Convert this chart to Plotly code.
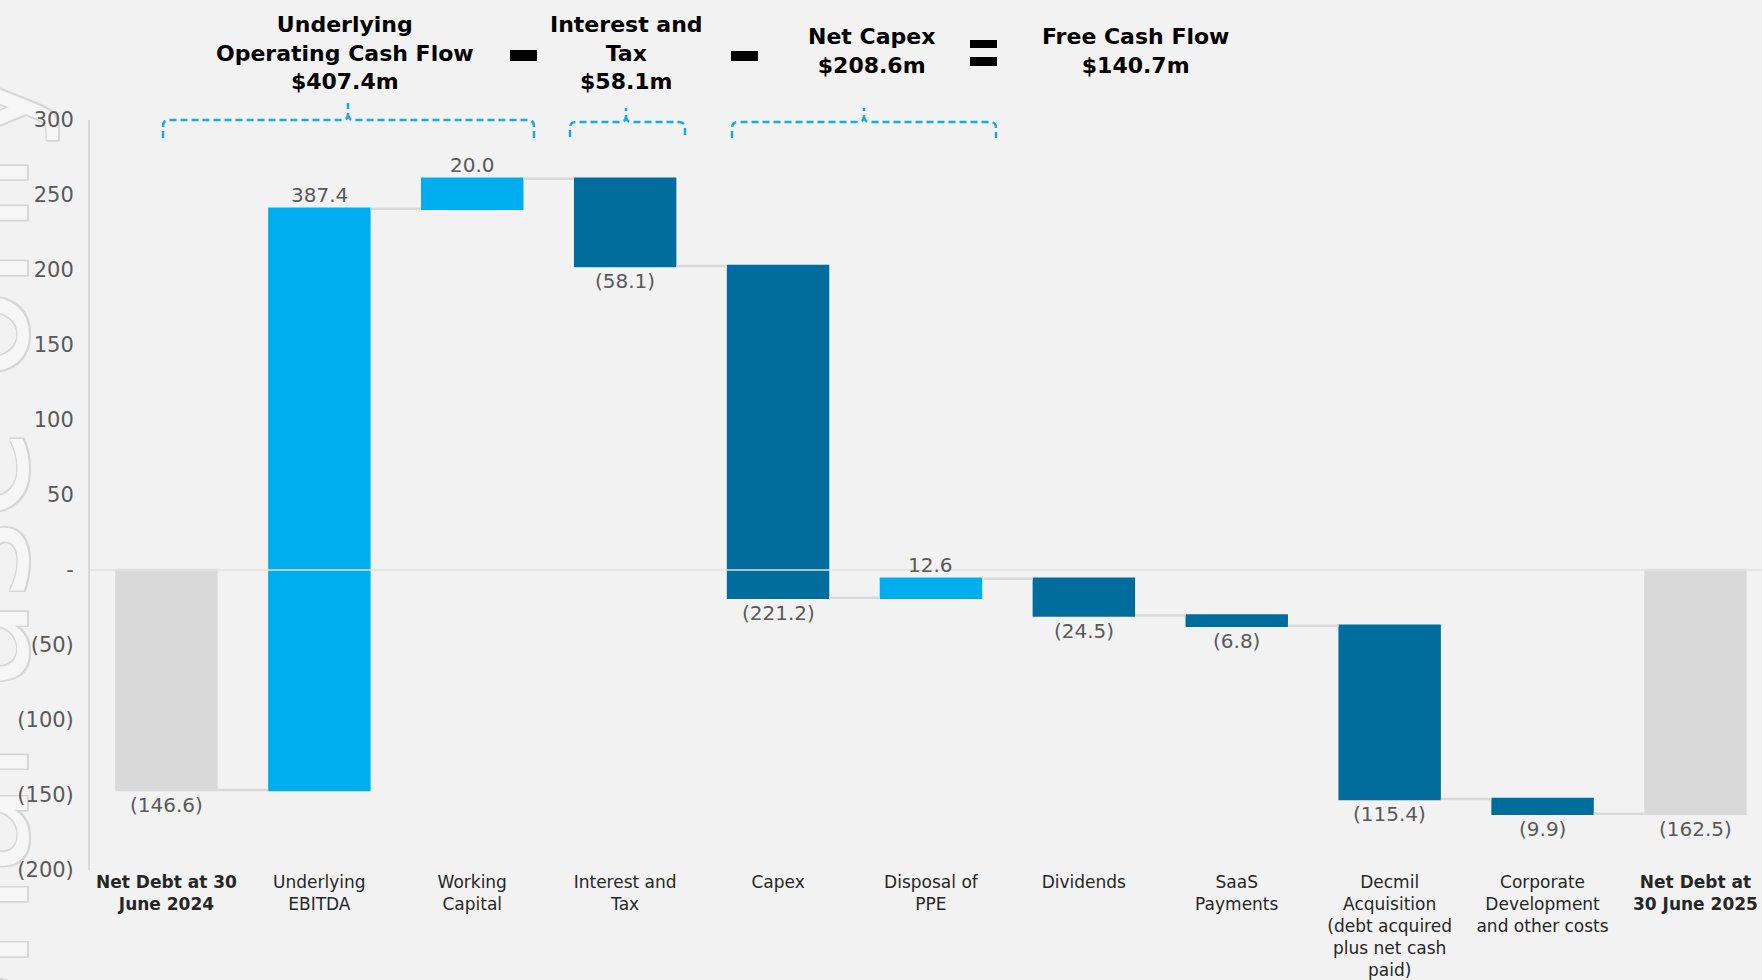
import plotly.graph_objects as go

# ---------------- data ----------------
categories = [
    "<b>Net Debt at 30<br>June 2024</b>",
    "Underlying<br>EBITDA",
    "Working<br>Capital",
    "Interest and<br>Tax",
    "Capex",
    "Disposal of<br>PPE",
    "Dividends",
    "SaaS<br>Payments",
    "Decmil<br>Acquisition<br>(debt acquired<br>plus net cash<br>paid)",
    "Corporate<br>Development<br>and other costs",
    "<b>Net Debt at<br>30 June 2025</b>",
]
measures = ["absolute", "relative", "relative", "relative", "relative", "relative",
            "relative", "relative", "relative", "relative", "total"]
values = [-146.6, 387.4, 20.0, -58.1, -221.2, 12.6, -24.5, -6.8, -115.4, -9.9, 0]

y_tickvals = [300, 250, 200, 150, 100, 50, 0, -50, -100, -150, -200]

header_titles = ["Underlying<br>Operating Cash Flow", "Interest and<br>Tax", "Net Capex", "Free Cash Flow"]
header_amounts = ["$407.4m", "$58.1m", "$208.6m", "$140.7m"]

# ---------------- styling / geometry ----------------
W, H = 1762, 980
L, R, T, B = 90, 0, 120, 110
PW, PH = W - L - R, H - T - B
BG = "#F2F2F2"
LIGHT = "#00AEEF"
DARK = "#006D9C"
GREY = "#D9D9D9"
FONT = "DejaVu Sans"


def px(x):
    return (x - L) / PW


def py(y):
    return (H - B - y) / PH


def fmt(v):
    return f"{v:.1f}" if v >= 0 else f"({-v:.1f})"


def tick_fmt(v):
    if v == 0:
        return "-"
    return f"{v:d}" if v > 0 else f"({-v:d})"


# compute bar ends from the data
x_idx = list(range(len(categories)))
starts, ends, shown = [], [], []
cum = 0.0
for m, v in zip(measures, values):
    if m == "absolute":
        s, e = 0.0, v
        cum = v
        shown.append(v)
    elif m == "total":
        s, e = 0.0, cum
        shown.append(cum)
    else:
        s, e = cum, cum + v
        cum = e
        shown.append(v)
    starts.append(s)
    ends.append(e)

fig = go.Figure()
fig.add_trace(go.Waterfall(
    x=x_idx,
    y=values,
    measure=measures,
    width=0.67,
    increasing=dict(marker=dict(color=LIGHT)),
    decreasing=dict(marker=dict(color=DARK)),
    totals=dict(marker=dict(color=GREY)),
    connector=dict(line=dict(color=GREY, width=2.5), mode="between"),
    textinfo="none",
    hoverinfo="skip",
))

annotations = []
# value labels
for xi, m, s, e, v in zip(x_idx, measures, starts, ends, shown):
    if m == "relative" and v > 0:
        yv, ysh = max(s, e), 14
    else:
        yv, ysh = min(s, e), -15
    annotations.append(dict(
        x=xi, y=yv, xref="x", yref="y", text=fmt(v), showarrow=False,
        xanchor="center", yanchor="middle", yshift=ysh,
        font=dict(family=FONT, size=20, color="#595959"),
    ))

shapes = []
# faint outlined watermark, drawn below axes and labels
shapes.append(dict(
    type="rect", xref="paper", yref="paper", layer="below",
    x0=px(-48), x1=px(-24), y0=py(1674), y1=py(60),
    fillcolor="rgba(0,0,0,0)", line=dict(width=0),
    label=dict(
        text="For personal use only", textangle=-90, textposition="middle center",
        font=dict(family=FONT, size=150, color="#F6F6F6",
                  shadow="1.5px 1.5px 0 #D6D6D6, -1.5px -1.5px 0 #D6D6D6, "
                         "1.5px -1.5px 0 #D6D6D6, -1.5px 1.5px 0 #D6D6D6"),
    ),
))

# zero line over bars
shapes.append(dict(type="line", xref="paper", yref="y", x0=0, x1=1, y0=0, y1=0,
                   line=dict(color="#E0E0E0", width=1.5), layer="above"))


# brackets
def bracket(x0, x1, xc, yh, yend, ytop, r=6):
    pts = (f"M {px(x0)},{py(yend)} L {px(x0)},{py(yh + r)} Q {px(x0)},{py(yh)} {px(x0 + r)},{py(yh)} "
           f"L {px(xc - r)},{py(yh)} Q {px(xc)},{py(yh)} {px(xc)},{py(yh - r)} L {px(xc)},{py(ytop)} "
           f"M {px(xc)},{py(yh - r)} Q {px(xc)},{py(yh)} {px(xc + r)},{py(yh)} "
           f"L {px(x1 - r)},{py(yh)} Q {px(x1)},{py(yh)} {px(x1)},{py(yh + r)} L {px(x1)},{py(yend)}")
    return dict(type="path", xref="paper", yref="paper", path=pts,
                line=dict(color="#1AAAE3", width=2.5, dash="7px,4px"))


shapes.append(bracket(163, 534, 348, 120, 138, 103))
shapes.append(bracket(570, 685, 626, 122, 137, 108))
shapes.append(bracket(732, 996, 864, 122, 138, 108))


# operator glyphs
def rect(x0, x1, y0, y1):
    return dict(type="rect", xref="paper", yref="paper", x0=px(x0), x1=px(x1), y0=py(y1), y1=py(y0),
                fillcolor="black", line=dict(width=0))


shapes.append(rect(510, 537, 50, 61))
shapes.append(rect(731, 758, 51, 61))
shapes.append(rect(970, 997, 40, 48))
shapes.append(rect(970, 997, 57, 66))

hdr_pos = [(345, 53), (626, 53), (871, 51), (1135, 51)]
for (hx, hy), t, a in zip(hdr_pos, header_titles, header_amounts):
    annotations.append(dict(
        x=px(hx), y=py(hy), xref="paper", yref="paper", xanchor="center", yanchor="middle",
        text=f"<b>{t}<br>{a}</b>", showarrow=False, align="center",
        font=dict(family=FONT, size=22, color="black"),
    ))

fig.update_layout(
    width=W, height=H,
    margin=dict(l=L, r=R, t=T, b=B, autoexpand=False),
    paper_bgcolor=BG, plot_bgcolor=BG,
    showlegend=False,
    shapes=shapes,
    annotations=annotations,
    xaxis=dict(
        range=[-0.5, -0.5 + PW / 152.9], tickmode="array", tickvals=x_idx, ticktext=categories,
        showgrid=False, zeroline=False, showline=False, ticks="",
        tickfont=dict(family=FONT, size=17, color="#262626"), automargin=False,
    ),
    yaxis=dict(
        range=[-200, 300], tickmode="array", tickvals=y_tickvals,
        ticktext=[tick_fmt(v) for v in y_tickvals],
        showgrid=False, zeroline=False, showline=True, linecolor=GREY, linewidth=2,
        ticks="", ticklabelstandoff=10,
        tickfont=dict(family=FONT, size=21, color="#595959"), automargin=False,
    ),
)

fig.write_html("out.html")
